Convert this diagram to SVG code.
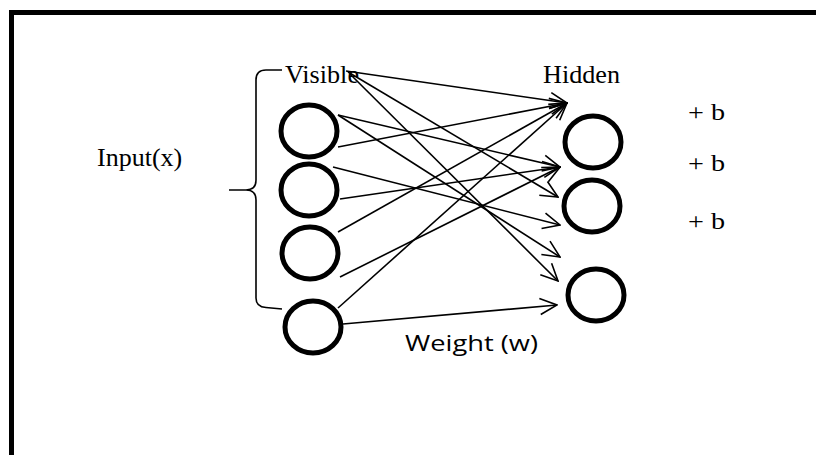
<svg xmlns="http://www.w3.org/2000/svg" width="816" height="455" viewBox="0 0 816 455">
  <style>
    .node { fill: none; stroke: #000; stroke-width: 5; }
    .edge { fill: none; stroke: #000; stroke-width: 1.6; marker-end: url(#ah); }
    .serif { font-family: "Liberation Serif", "Times New Roman", serif; fill: #000; }
    .sans { font-family: "Open Sans", "Liberation Sans", Arial, sans-serif; fill: #000; }
  </style>
  <defs>
    <marker id="ah" viewBox="0 0 20 20" refX="19" refY="10" markerWidth="20" markerHeight="20" markerUnits="userSpaceOnUse" orient="auto">
      <path d="M2,2 L19,10 L2,18" fill="none" stroke="#000" stroke-width="1.6"/>
    </marker>
  </defs>
  <rect x="0" y="0" width="816" height="455" fill="#fff"/>
  <rect x="11.5" y="12.5" width="830" height="460" fill="none" stroke="#000" stroke-width="5"/>

  <g id="brace">
    <path d="M282,70 L266,70 Q256,70 256,80 L256,180 Q256,190 246,190 L229,190 M246,190 Q256,190 256,200 L256,298 Q256,307 266,307.5 L282,309" fill="none" stroke="#000" stroke-width="1.6"/>
  </g>

  <g id="connectors">
    <line class="edge" x1="346" y1="71" x2="567" y2="103"/>
    <line class="edge" x1="348" y1="72" x2="558" y2="197"/>
    <line class="edge" x1="350" y1="74" x2="558" y2="281"/>
    <line class="edge" x1="338" y1="115" x2="560" y2="167"/>
    <line class="edge" x1="338" y1="115" x2="560" y2="257"/>
    <line class="edge" x1="338" y1="147" x2="567" y2="103"/>
    <line class="edge" x1="333" y1="167" x2="560" y2="225"/>
    <line class="edge" x1="340" y1="199" x2="560" y2="167"/>
    <line class="edge" x1="338" y1="232" x2="567" y2="103"/>
    <line class="edge" x1="340" y1="277" x2="560" y2="167"/>
    <line class="edge" x1="338" y1="308" x2="567" y2="103"/>
    <line class="edge" x1="343" y1="324" x2="557" y2="305"/>
  </g>

  <g id="v1"><ellipse class="node" cx="309" cy="131" rx="28" ry="26"/></g>
  <g id="v2"><ellipse class="node" cx="309" cy="190" rx="28" ry="26"/></g>
  <g id="v3"><ellipse class="node" cx="310" cy="253" rx="28" ry="26"/></g>
  <g id="v4"><ellipse class="node" cx="313" cy="327" rx="28" ry="26"/></g>
  <g id="h1"><ellipse class="node" cx="593" cy="142" rx="28" ry="26"/></g>
  <g id="h2"><ellipse class="node" cx="592" cy="206" rx="28" ry="26"/></g>
  <g id="h3"><ellipse class="node" cx="596" cy="295" rx="28" ry="26"/></g>

  <g id="labels">
    <text class="serif" x="285" y="83" font-size="26" textLength="74" lengthAdjust="spacingAndGlyphs">Visible</text>
    <text class="serif" x="543" y="83" font-size="26" textLength="77" lengthAdjust="spacingAndGlyphs">Hidden</text>
    <text class="serif" x="97" y="166" font-size="26">Input(x)</text>
    <text class="serif" x="688" y="120" font-size="24" textLength="37" lengthAdjust="spacingAndGlyphs">+ b</text>
    <text class="serif" x="688" y="171" font-size="24" textLength="37" lengthAdjust="spacingAndGlyphs">+ b</text>
    <text class="serif" x="688" y="229" font-size="24" textLength="37" lengthAdjust="spacingAndGlyphs">+ b</text>
    <text class="sans" x="405" y="351" font-size="22" textLength="133" lengthAdjust="spacingAndGlyphs">Weight (w)</text>
  </g>
</svg>
